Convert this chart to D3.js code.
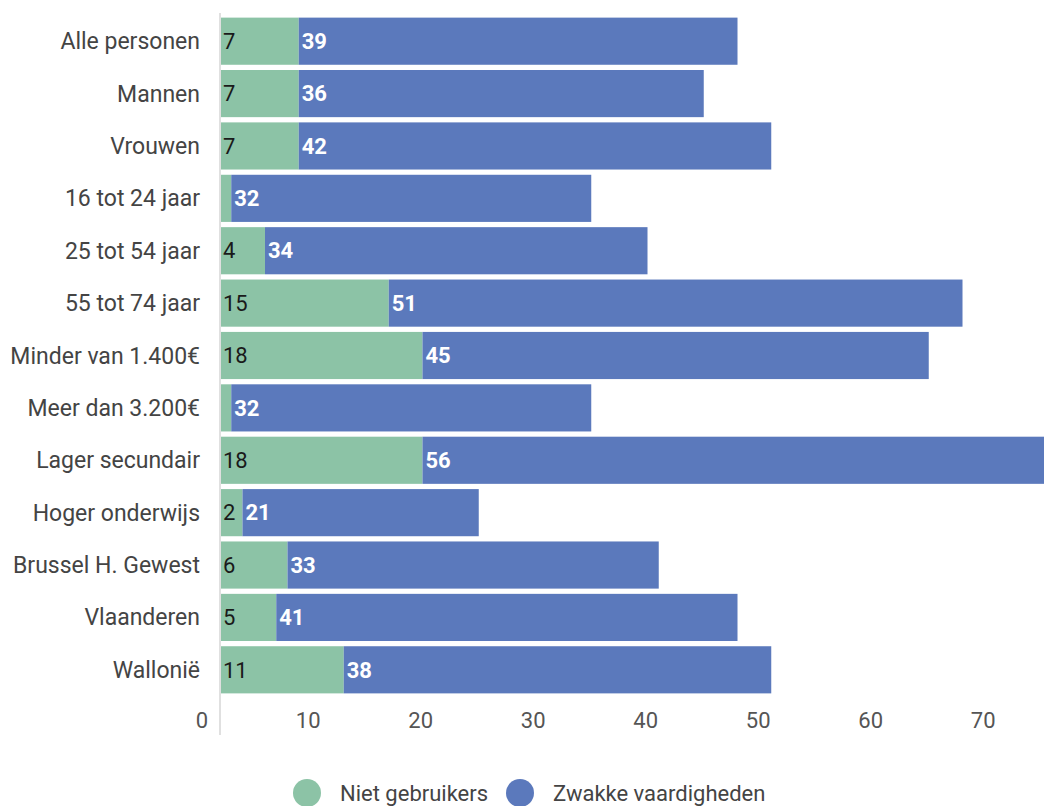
<!DOCTYPE html>
<html><head><meta charset="utf-8">
<script src="https://cdn.jsdelivr.net/npm/d3@7"></script>
<style>body{margin:0;background:#fff}svg{display:block;font-family:Roboto,sans-serif}</style>
</head><body>
<svg id="c" width="1044" height="806"></svg>
<script>
const categories = ["Alle personen","Mannen","Vrouwen","16 tot 24 jaar","25 tot 54 jaar","55 tot 74 jaar","Minder van 1.400€","Meer dan 3.200€","Lager secundair","Hoger onderwijs","Brussel H. Gewest","Vlaanderen","Wallonië"];
const nietGebruikers = [7,7,7,1,4,15,18,1,18,2,6,5,11];
const zwakkeVaardigheden = [39,36,42,32,34,51,45,32,56,21,33,41,38];
const seriesNames = ["Niet gebruikers","Zwakke vaardigheden"];
const xTicks = [0,10,20,30,40,50,60,70];
const colors = ["#8cc3a6","#5b79bc"];

const svg = d3.select("#c");
const x = d3.scaleLinear().domain([0,80]).range([220,1120]);
const y = d3.scaleBand().domain(categories).range([15,696]).paddingInner(0.1).paddingOuter(0.05);

const rows = categories.map((c,i)=>({c, a:nietGebruikers[i], b:zwakkeVaardigheden[i]}));

const g = svg.append("g");
g.selectAll("rect.a").data(rows).join("rect").attr("class","a")
  .attr("x",x(0)).attr("y",d=>y(d.c)).attr("width",d=>x(d.a)-x(0)).attr("height",y.bandwidth()).attr("fill",colors[0]);
g.selectAll("rect.b").data(rows).join("rect").attr("class","b")
  .attr("x",d=>x(d.a)).attr("y",d=>y(d.c)).attr("width",d=>x(d.a+d.b)-x(d.a)).attr("height",y.bandwidth()).attr("fill",colors[1]);

g.selectAll("text.va").data(rows.filter(d=>x(d.a)-x(0)>18)).join("text").attr("class","va")
  .attr("x",x(0)+3).attr("y",d=>y(d.c)+y.bandwidth()/2).attr("dy","0.35em")
  .attr("font-size",22).attr("fill","#1a1a1a").text(d=>d.a);
g.selectAll("text.vb").data(rows).join("text").attr("class","vb")
  .attr("x",d=>x(d.a)+3).attr("y",d=>y(d.c)+y.bandwidth()/2).attr("dy","0.35em")
  .attr("font-size",22).attr("font-weight","bold").attr("fill","#fff").text(d=>d.b);

// category labels
g.selectAll("text.cat").data(categories).join("text").attr("class","cat")
  .attr("x",200).attr("y",d=>y(d)+y.bandwidth()/2).attr("dy","0.35em")
  .attr("text-anchor","end").attr("font-size",23).attr("fill","#444").text(d=>d);

// axis line
svg.append("line").attr("x1",x(0)).attr("x2",x(0)).attr("y1",13).attr("y2",735)
  .attr("stroke","#e0e0e0").attr("stroke-width",2);

// tick labels
svg.selectAll("text.tick").data(xTicks).join("text").attr("class","tick")
  .attr("x",d=>x(d)-12).attr("y",720).attr("dy","0.35em").attr("text-anchor","end")
  .attr("font-size",22).attr("fill","#555").text(d=>d);

// legend
const legend = [{n:seriesNames[0],cx:307,tx:340,c:colors[0]},{n:seriesNames[1],cx:520,tx:553,c:colors[1]}];
const lg = svg.append("g");
lg.selectAll("circle").data(legend).join("circle").attr("cx",d=>d.cx).attr("cy",793).attr("r",14).attr("fill",d=>d.c);
lg.selectAll("text").data(legend).join("text").attr("x",d=>d.tx).attr("y",793).attr("dy","0.35em")
  .attr("font-size",22).attr("fill","#444").text(d=>d.n);
</script>
</body></html>
